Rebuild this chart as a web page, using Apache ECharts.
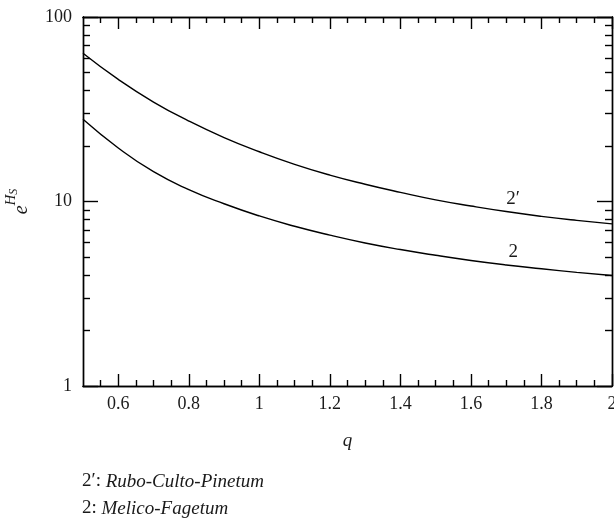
<!DOCTYPE html>
<html>
<head>
<meta charset="utf-8">
<script src="https://cdn.jsdelivr.net/npm/echarts@6/dist/echarts.min.js"></script>
<style>
  html, body { margin: 0; padding: 0; background: #fff; }
  #chart { width: 614px; height: 520px; }
</style>
</head>
<body>
<div id="chart"></div>
<script>
// q values along the x axis
const qValues = [0.5, 0.6, 0.7, 0.8, 0.9, 1.0, 1.1, 1.2, 1.3, 1.4, 1.5, 1.6, 1.7, 1.8, 1.9, 2.0];
// 2': Rubo-Culto-Pinetum
const rubo = [63.6, 45.9, 34.6, 27.3, 22.2, 18.6, 15.9, 13.9, 12.4, 11.2, 10.2, 9.45, 8.82, 8.31, 7.9, 7.56];
// 2: Melico-Fagetum
const melico = [27.9, 19.5, 14.5, 11.6, 9.72, 8.35, 7.34, 6.57, 5.96, 5.49, 5.11, 4.79, 4.53, 4.32, 4.13, 3.97];

const xMajorTicks = [0.6, 0.8, 1, 1.2, 1.4, 1.6, 1.8, 2];
const xMinorTicks = [0.55, 0.65, 0.7, 0.75, 0.85, 0.9, 0.95, 1.05, 1.1, 1.15, 1.25, 1.3, 1.35,
  1.45, 1.5, 1.55, 1.65, 1.7, 1.75, 1.85, 1.9, 1.95];
const yMajorTicks = [1, 10, 100];
const yMinorTicks = [2, 3, 4, 5, 6, 7, 8, 9, 20, 30, 40, 50, 60, 70, 80, 90];

const curveLabelAt = 1.7;
const serif = "'Liberation Serif', 'DejaVu Serif', serif";
const ink = "#1a1a1a";

const chart = echarts.init(document.getElementById("chart"), null, { renderer: "canvas" });

const lineStyle = { color: "#000", width: 1.4 };

function xAxisDef(pos, ticks, len, showLabel) {
  return {
    type: "value",
    position: pos,
    min: 0.5,
    max: 2,
    axisLine: { show: true, onZero: false, lineStyle: lineStyle },
    axisTick: { show: true, inside: true, length: len, customValues: ticks, lineStyle: lineStyle },
    axisLabel: {
      show: showLabel,
      customValues: xMajorTicks,
      margin: 9,
      color: ink,
      fontFamily: serif,
      fontSize: 18,
      formatter: (v) => String(Math.round(v * 10) / 10),
    },
    splitLine: { show: false },
  };
}

function yAxisDef(pos, ticks, len, showLabel) {
  return {
    type: "log",
    logBase: 10,
    position: pos,
    min: 1,
    max: 100,
    axisLine: { show: true, onZero: false, lineStyle: lineStyle },
    axisTick: { show: true, inside: true, length: len, customValues: ticks, lineStyle: lineStyle },
    axisLabel: {
      show: showLabel,
      customValues: yMajorTicks,
      margin: 11,
      color: ink,
      fontFamily: serif,
      fontSize: 18,
    },
    splitLine: { show: false },
  };
}

const xAxes = [
  Object.assign(xAxisDef("bottom", xMajorTicks, 12, true), {
    name: "q",
    nameLocation: "middle",
    nameGap: 45,
    nameTextStyle: { fontFamily: serif, fontStyle: "italic", fontSize: 19, color: ink },
  }),
  xAxisDef("bottom", xMinorTicks, 6, false),
  xAxisDef("top", xMajorTicks, 12, false),
  xAxisDef("top", xMinorTicks, 6, false),
];

const yAxes = [
  Object.assign(yAxisDef("left", yMajorTicks, 15, true), {
    name: "{e|e}{h|H}{s|S}",
    nameLocation: "middle",
    nameGap: 51,
    nameRotate: 90,
    nameTextStyle: {
      fontFamily: serif,
      color: ink,
      rich: {
        e: { fontFamily: serif, fontStyle: "italic", fontSize: 20, color: ink, verticalAlign: "bottom", lineHeight: 28 },
        h: { fontFamily: serif, fontStyle: "italic", fontSize: 15, color: ink, verticalAlign: "top", lineHeight: 28 },
        s: { fontFamily: serif, fontStyle: "italic", fontSize: 12, color: ink, verticalAlign: "top", lineHeight: 22, padding: [4, 0, 0, 0] },
      },
    },
  }),
  yAxisDef("left", yMinorTicks, 7, false),
  yAxisDef("right", yMajorTicks, 15, false),
  yAxisDef("right", yMinorTicks, 7, false),
];

function buildData(values, labelText) {
  return qValues.map((q, i) => {
    const item = { value: [q, values[i]] };
    if (Math.abs(q - curveLabelAt) < 1e-9) {
      item.label = {
        show: true,
        formatter: labelText,
        position: "top",
        distance: 3,
        offset: [7, 0],
        fontFamily: serif,
        fontSize: 19,
        color: ink,
      };
    }
    return item;
  });
}

function curve(name, values) {
  return {
    name: name,
    type: "line",
    smooth: 0.5,
    showSymbol: true,
    symbol: "circle",
    symbolSize: 0,
    itemStyle: { color: "#000" },
    label: { show: false },
    lineStyle: { color: "#000", width: 1.4 },
    data: buildData(values, name),
  };
}

const legendRich = { i: { fontFamily: serif, fontStyle: "italic", fontSize: 19, fill: ink } };

const option = {
  animation: false,
  backgroundColor: "#fff",
  grid: { left: 83, top: 17, width: 529, height: 369, containLabel: false, outerBoundsMode: "none" },
  xAxis: xAxes,
  yAxis: yAxes,
  series: [curve("2′", rubo), curve("2", melico)],
  graphic: [
    {
      type: "text",
      left: 82,
      top: 472,
      style: { text: "2′: {i|Rubo-Culto-Pinetum}", font: "19px " + serif, fill: ink, rich: legendRich },
    },
    {
      type: "text",
      left: 82,
      top: 499,
      style: { text: "2: {i|Melico-Fagetum}", font: "19px " + serif, fill: ink, rich: legendRich },
    },
  ],
};

chart.setOption(option);
</script>
</body>
</html>
